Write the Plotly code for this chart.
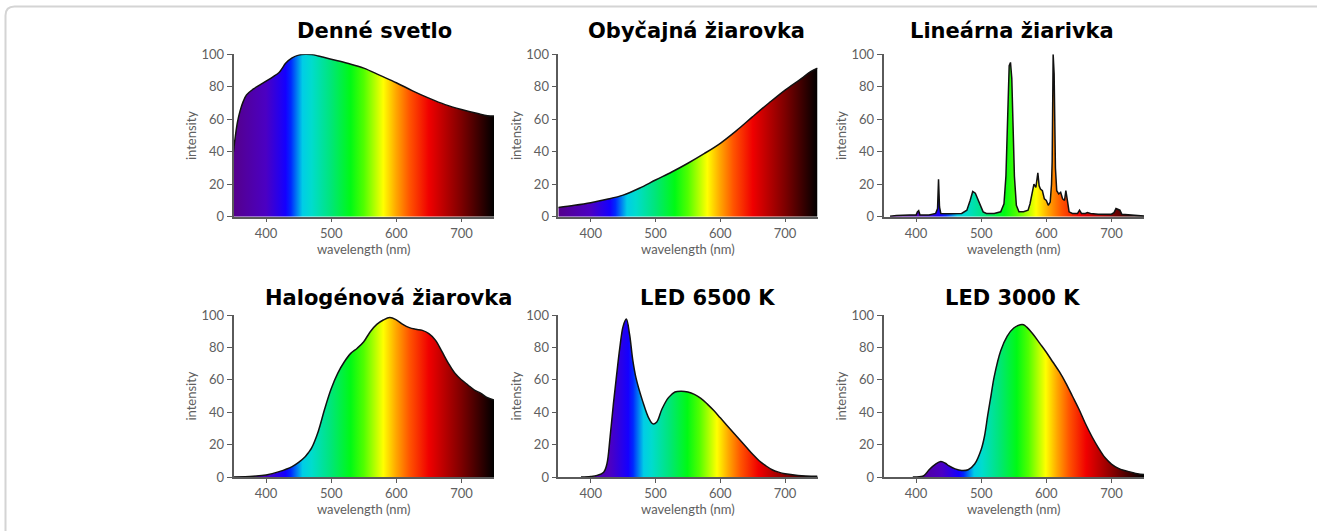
import plotly.graph_objects as go

W, H = 1317, 531

titles = ["Denné svetlo", "Obyčajná žiarovka", "Lineárna žiarivka",
          "Halogénová žiarovka", "LED 6500 K", "LED 3000 K"]

x_tick_vals = [400, 500, 600, 700]
y_tick_vals = [0, 20, 40, 60, 80, 100]

daylight_nm = [350, 353, 356, 360, 365, 370, 380, 390, 400, 410, 420, 425, 430, 440, 450, 460,
               470, 480, 500, 525, 550, 575, 600, 625, 650, 675, 700, 725, 740, 750]
daylight_int = [40, 50, 58, 65, 71, 75, 78.5, 81, 83.5, 86, 88.8, 91.5, 94.5, 97.8, 99.5, 100,
                99.8, 99, 97, 94.5, 91.5, 87, 82.5, 77.5, 73, 69, 66, 63.5, 62.2, 62]

incand_nm = [350, 375, 400, 425, 450, 475, 500, 525, 550, 575, 600, 625, 650, 675, 700, 725, 740, 750]
incand_int = [5.7, 7, 8.6, 10.7, 13.3, 17.5, 22.6, 27.5, 32.9, 38.8, 45.2, 53, 61.6, 70, 78, 85, 89.5, 91.5]

fluor_nm = [360, 370, 390, 400, 402, 404, 406, 420, 430, 433, 434.5, 436, 438, 450, 470, 478,
            483, 487, 491, 495, 499, 503, 508, 520, 530, 535, 538, 541, 543, 545, 547, 549,
            551, 554, 558, 565, 572, 575, 578, 581, 584, 587, 589, 591, 594, 597, 600, 603,
            606, 608, 609, 610.5, 612, 614, 616, 619, 622, 625, 628, 630, 632, 635, 640,
            648, 651, 654, 660, 663, 668, 680, 700, 704, 707, 710, 713, 716, 730, 750]
fluor_int = [0.3, 0.8, 1, 1, 3, 3.7, 1, 1, 2, 5, 23, 6, 2, 1.8, 2, 4,
             10, 15.5, 14.5, 11, 7, 3, 2, 2, 3, 8, 25, 75, 93, 95, 85, 55,
             25, 7, 3, 3, 4, 8, 14, 20, 18, 27, 19, 17, 16, 11, 10, 7,
             9, 20, 34, 100, 88, 30, 16, 14, 15, 11, 10, 16, 11, 3, 2,
             2, 4, 2, 2, 2.5, 2, 1.5, 1.5, 2.5, 5, 4.5, 4, 1.5, 1, 0.5]

halogen_nm = [350, 380, 400, 420, 440, 450, 460, 465, 470, 480, 490, 500, 510, 520, 530, 540,
              550, 560, 570, 580, 590, 600, 610, 620, 630, 640, 650, 660, 670, 680, 690, 700,
              710, 720, 730, 740, 750]
halogen_int = [0, 0.5, 1.2, 3.3, 6.4, 9, 12.5, 15, 18, 28, 42, 54.5, 64, 71, 76.3, 79.5,
               83.5, 89.7, 94.2, 96.9, 98.4, 97, 94.2, 92.2, 91.2, 90.5, 88.5, 84.5, 77.5, 70.2, 64, 60,
               56.8, 53.7, 51.6, 49, 47.5]

led65_nm = [385, 400, 410, 420, 425, 430, 435, 440, 445, 450, 455, 460, 465, 470, 480, 490,
            496, 502, 510, 520, 530, 540, 550, 560, 570, 580, 590, 600, 610, 620, 630, 640,
            650, 660, 670, 680, 690, 700, 720, 750]
led65_int = [0, 0.3, 1, 3, 8, 25, 45, 63, 80, 93, 97.5, 88, 72, 61, 47, 36,
             32.8, 34, 42, 49, 52.5, 53, 52.5, 51, 48.5, 45, 41, 36.5, 32, 27.5, 23, 18.5,
             14, 10, 7, 4.5, 3, 2, 1, 0.4]

led30_nm = [395, 410, 415, 420, 430, 438, 445, 450, 460, 470, 480, 490, 500, 505, 510, 515,
            520, 530, 540, 550, 560, 565, 570, 580, 590, 600, 610, 620, 630, 640, 650, 660,
            670, 680, 690, 700, 710, 720, 730, 740, 750]
led30_int = [0, 0.5, 2, 4.5, 8, 9.5, 8.5, 7, 5, 4, 4.5, 8, 17, 25, 38, 50,
             62, 78, 87, 92, 94, 94, 92.5, 88, 82.5, 77, 71, 65, 58, 50, 42, 33,
             25, 18, 12, 8, 5.5, 4, 3, 2, 1.5]

series = [
    (daylight_nm, daylight_int, "spline"),
    (incand_nm, incand_int, "spline"),
    (fluor_nm, fluor_int, "linear"),
    (halogen_nm, halogen_int, "spline"),
    (led65_nm, led65_int, "spline"),
    (led30_nm, led30_int, "spline"),
]

spectrum = [
    [0.0, "rgb(85,0,140)"],
    [0.125, "rgb(75,0,195)"],
    [0.2, "rgb(20,0,255)"],
    [0.22, "rgb(0,40,255)"],
    [0.265, "rgb(0,205,230)"],
    [0.3, "rgb(0,220,205)"],
    [0.375, "rgb(0,230,120)"],
    [0.45, "rgb(0,250,20)"],
    [0.5, "rgb(80,255,0)"],
    [0.575, "rgb(255,255,0)"],
    [0.625, "rgb(255,165,0)"],
    [0.675, "rgb(255,85,0)"],
    [0.75, "rgb(240,0,0)"],
    [0.875, "rgb(125,0,0)"],
    [1.0, "rgb(0,0,0)"],
]

col_px = [(233.5, 494.0), (558.3, 817.5), (883.5, 1144.0)]
row_px = [(54.3, 216.7), (315.0, 477.0)]
title_px = [(374, 31), (697, 31), (1012, 31), (388, 298), (707, 298), (1012, 298)]

fig = go.Figure()
axis_font = dict(family="Lato, 'Open Sans', sans-serif", size=13, color="#606060")

for i, (xs, ys, shape) in enumerate(series):
    n = i + 1
    sfx = "" if n == 1 else str(n)
    fig.add_trace(go.Scatter(
        x=xs, y=ys, mode="lines",
        line=dict(color="#111111", width=1.5, shape=shape, smoothing=1.0),
        fill="tozeroy",
        fillgradient=dict(type="horizontal", colorscale=spectrum),
        xaxis="x" + sfx, yaxis="y" + sfx, showlegend=False, hoverinfo="x+y",
    ))
    r, c = divmod(i, 3)
    x0, x1 = col_px[c]
    y0, y1 = row_px[r]
    fig.update_layout(**{
        "xaxis" + sfx: dict(
            domain=[x0 / W, x1 / W], range=[350, 750], anchor="y" + sfx,
            tickvals=x_tick_vals, showline=True, linecolor="#5a5a5a", linewidth=1.5,
            ticks="outside", ticklen=4, tickcolor="#5a5a5a", tickwidth=1.2,
            showgrid=False, zeroline=False, tickfont=axis_font,
            title=dict(text="wavelength (nm)", font=dict(family=axis_font["family"], size=13, color="#606060"), standoff=1),
            automargin=False, fixedrange=True,
        ),
        "yaxis" + sfx: dict(
            domain=[1 - y1 / H, 1 - y0 / H], range=[0, 100], anchor="x" + sfx,
            tickvals=y_tick_vals, showline=True, linecolor="#5a5a5a", linewidth=1.5,
            ticks="outside", ticklen=5, tickcolor="#5a5a5a", tickwidth=1.2,
            showgrid=False, zeroline=False, tickfont=axis_font,
            title=dict(text="intensity", font=dict(family=axis_font["family"], size=13, color="#606060"), standoff=2),
            automargin=False, fixedrange=True,
        ),
    })
    tx, ty = title_px[i]
    fig.add_annotation(
        x=tx / W, y=1 - ty / H, xref="paper", yref="paper", text="<b>" + titles[i] + "</b>",
        showarrow=False, xanchor="center", yanchor="middle",
        font=dict(family="DejaVu Sans", size=21, color="#000000"),
    )

# light rounded frame around the figure
lx, ty_, rad = 5.5 / W, 1 - 6.5 / H, 9
path = (f"M {lx},{-0.01} L {lx},{ty_ - rad / H} "
        f"Q {lx},{ty_} {lx + rad / W},{ty_} L {1.01},{ty_}")
fig.add_shape(type="path", path=path, xref="paper", yref="paper",
              line=dict(color="#d4d4d4", width=2))

fig.update_layout(
    width=W, height=H,
    margin=dict(l=0, r=0, t=0, b=0),
    paper_bgcolor="white", plot_bgcolor="white",
)

fig.write_html("out.html")
